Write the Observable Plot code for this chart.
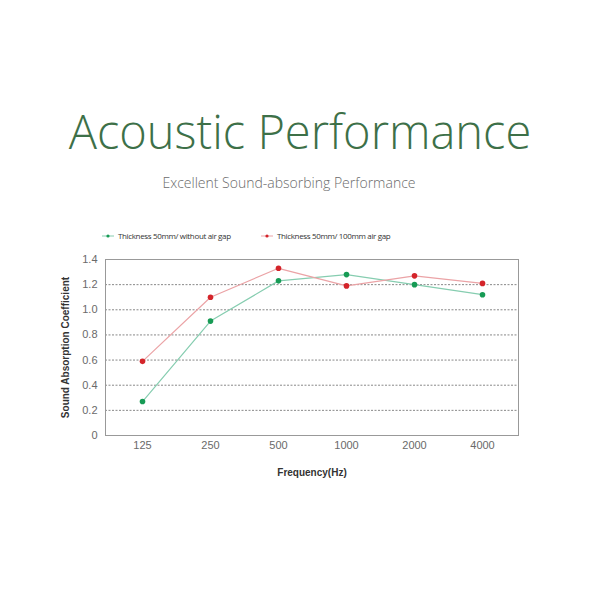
<!DOCTYPE html>
<html>
<head>
<meta charset="utf-8">
<script src="https://cdn.jsdelivr.net/npm/d3@7"></script>
<script src="https://cdn.jsdelivr.net/npm/@observablehq/plot@0.6"></script>
<style>
  body { margin: 0; background: #fff; }
  #wrap { position: relative; width: 600px; height: 600px; overflow: hidden; }
  #title { position: absolute; left: 0; width: 600px; top: 99px; text-align: center;
    font-family: "Open Sans", sans-serif; font-weight: 300; font-size: 47px; color: #3d7048; }
  #subtitle { position: absolute; left: -11px; width: 600px; top: 173px; text-align: center;
    font-family: "Open Sans", sans-serif; font-weight: 300; font-size: 14px; color: #6b6b6b; }
  .leg { position: absolute; top: 230px; font-family: "Open Sans", sans-serif; font-size: 8px; color: #333;
    display: flex; align-items: center; gap: 4px; letter-spacing: -0.35px; }
  #chart { position: absolute; left: 0; top: 240px; }
  g[aria-label="y-axis label"] text, g[aria-label="x-axis label"] text { font-weight: bold; fill: #333; font-size: 10px; }
</style>
</head>
<body>
<div id="wrap">
  <div id="title">Acoustic Performance</div>
  <div id="subtitle">Excellent Sound-absorbing Performance</div>
  <div id="leg1" class="leg" style="left:102px"></div>
  <div id="leg2" class="leg" style="left:261px"></div>
  <div id="chart"></div>
</div>
<script>
const frequencies = ["125", "250", "500", "1000", "2000", "4000"];
const withoutAirGap = [0.27, 0.91, 1.23, 1.28, 1.20, 1.12];
const withAirGap = [0.59, 1.10, 1.33, 1.19, 1.27, 1.21];
const seriesNames = ["Thickness 50mm/ without air gap", "Thickness 50mm/ 100mm air gap"];
const yTicks = [0, 0.2, 0.4, 0.6, 0.8, 1.0, 1.2, 1.4];
const gridLevels = [0.2, 0.4, 0.6, 0.8, 1.0, 1.2];

const lineColors = ["#86cdb0", "#eba3a6"];
const dotColors = ["#179b55", "#d4242a"];

const data = [];
frequencies.forEach((f, i) => {
  data.push({freq: f, value: withoutAirGap[i], series: seriesNames[0]});
  data.push({freq: f, value: withAirGap[i], series: seriesNames[1]});
});

function legendItem(el, i) {
  el.innerHTML = `<svg width="12" height="6"><line x1="0" y1="3" x2="12" y2="3" stroke="${lineColors[i]}" stroke-width="1"/><circle cx="6" cy="3" r="1.6" fill="${dotColors[i]}"/></svg><span>${seriesNames[i]}</span>`;
}
legendItem(document.getElementById("leg1"), 0);
legendItem(document.getElementById("leg2"), 1);

const chart = Plot.plot({
  width: 600,
  height: 250,
  marginTop: 19,
  marginBottom: 55,
  marginLeft: 105,
  marginRight: 82,
  style: {fontFamily: "'Liberation Sans', Arial, sans-serif", fontSize: "11px", color: "#6a6a6a", background: "transparent"},
  x: {type: "point", domain: frequencies, padding: 0.5},
  y: {domain: [0, 1.4]},
  color: {domain: seriesNames, range: lineColors},
  marks: [
    Plot.ruleY(gridLevels, {stroke: "#888", strokeDasharray: "2,1.5", strokeWidth: 1}),
    Plot.frame({stroke: "#999", strokeWidth: 1}),
    Plot.axisX({tickSize: 0, tickPadding: 6, label: "Frequency(Hz)", labelArrow: false, labelAnchor: "center", labelOffset: 40}),
    Plot.axisY({ticks: yTicks, tickSize: 0, tickPadding: 8, tickFormat: d => d === 0 ? "0" : d.toFixed(1),
      label: "Sound Absorption Coefficient", labelArrow: false, labelAnchor: "center", labelOffset: 44}),
    Plot.line(data, {x: "freq", y: "value", z: "series", stroke: "series", strokeWidth: 1.2}),
    Plot.dot(data, {x: "freq", y: "value", fill: d => d.series === seriesNames[0] ? dotColors[0] : dotColors[1], r: 2.8})
  ]
});
document.getElementById("chart").appendChild(chart);
</script>
</body>
</html>
